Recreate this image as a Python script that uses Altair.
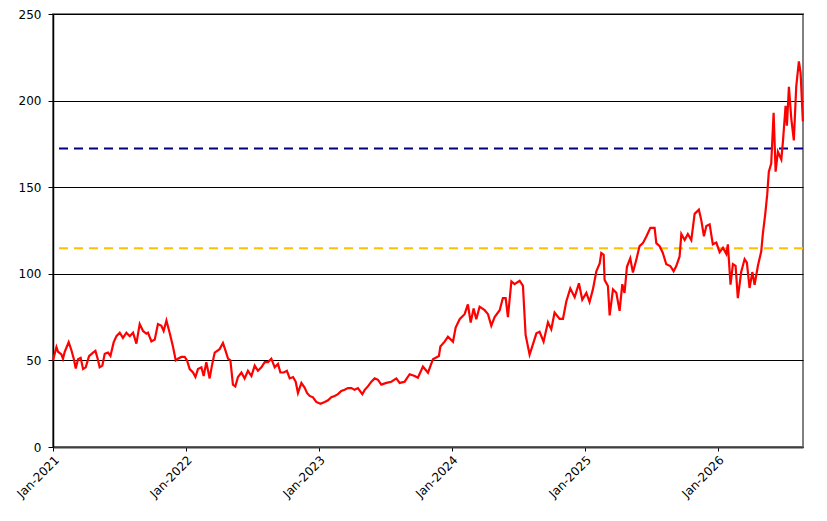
import altair as alt
import pandas as pd

# decimal-year positions and prices
t = [
    2021.000, 2021.026, 2021.038, 2021.063, 2021.075, 2021.088, 2021.118, 2021.138, 2021.156, 2021.171,
    2021.188, 2021.208, 2021.226, 2021.246, 2021.271, 2021.301, 2021.319, 2021.334, 2021.351, 2021.371,
    2021.389, 2021.414, 2021.432, 2021.456, 2021.477, 2021.502, 2021.526, 2021.552, 2021.577, 2021.602,
    2021.627, 2021.652, 2021.677, 2021.702, 2021.714, 2021.740, 2021.765, 2021.789, 2021.815, 2021.832,
    2021.853, 2021.877, 2021.902, 2021.923, 2021.940, 2021.965, 2021.990, 2022.008, 2022.028, 2022.053,
    2022.071, 2022.090, 2022.116, 2022.133, 2022.153, 2022.178, 2022.195, 2022.216, 2022.253, 2022.278,
    2022.298, 2022.316, 2022.334, 2022.353, 2022.371, 2022.391, 2022.417, 2022.441, 2022.466, 2022.492,
    2022.517, 2022.541, 2022.567, 2022.592, 2022.617, 2022.642, 2022.667, 2022.692, 2022.710, 2022.735,
    2022.759, 2022.780, 2022.805, 2022.825, 2022.842, 2022.868, 2022.893, 2022.910, 2022.930, 2022.955,
    2022.980, 2023.011, 2023.043, 2023.068, 2023.093, 2023.118, 2023.143, 2023.168, 2023.193, 2023.218,
    2023.244, 2023.268, 2023.293, 2023.326, 2023.344, 2023.368, 2023.394, 2023.419, 2023.444, 2023.469,
    2023.507, 2023.544, 2023.582, 2023.607, 2023.644, 2023.682, 2023.720, 2023.744, 2023.782, 2023.820,
    2023.857, 2023.902, 2023.913, 2023.945, 2023.970, 2024.008, 2024.028, 2024.058, 2024.095, 2024.120,
    2024.141, 2024.163, 2024.183, 2024.208, 2024.246, 2024.271, 2024.296, 2024.321, 2024.359, 2024.383,
    2024.404, 2024.421, 2024.447, 2024.471, 2024.509, 2024.534, 2024.554, 2024.584, 2024.609, 2024.635,
    2024.659, 2024.689, 2024.722, 2024.747, 2024.772, 2024.810, 2024.835, 2024.860, 2024.890, 2024.923,
    2024.955, 2024.980, 2025.011, 2025.035, 2025.060, 2025.086, 2025.111, 2025.123, 2025.141, 2025.148,
    2025.173, 2025.186, 2025.211, 2025.236, 2025.261, 2025.281, 2025.298, 2025.316, 2025.341, 2025.361,
    2025.386, 2025.411, 2025.436, 2025.462, 2025.492, 2025.524, 2025.537, 2025.562, 2025.586, 2025.612,
    2025.642, 2025.667, 2025.687, 2025.712, 2025.725, 2025.750, 2025.774, 2025.800, 2025.825, 2025.857,
    2025.875, 2025.895, 2025.913, 2025.938, 2025.962, 2025.988, 2026.013, 2026.038, 2026.063, 2026.075,
    2026.095, 2026.113, 2026.133, 2026.150, 2026.175, 2026.201, 2026.218, 2026.238, 2026.259, 2026.276,
    2026.301, 2026.326, 2026.338, 2026.356, 2026.371, 2026.383, 2026.401, 2026.419, 2026.434, 2026.451,
    2026.477, 2026.489, 2026.509, 2026.519, 2026.534, 2026.552, 2026.571, 2026.589, 2026.609, 2026.622,
    2026.639,
]
price = [
    50.0, 57.7, 55.0, 53.5, 51.0, 55.0, 60.5, 56.0, 51.0, 45.3,
    50.7, 51.5, 45.0, 46.0, 52.5, 54.5, 55.5, 51.5, 46.0, 47.0,
    53.8, 54.5, 52.6, 60.4, 64.0, 66.0, 63.0, 66.0, 64.0, 66.0,
    59.7, 71.0, 67.0, 65.4, 66.0, 61.0, 62.0, 71.0, 70.0, 67.0,
    73.0, 66.0, 58.0, 50.0, 51.0, 52.0, 52.0, 50.0, 45.0, 43.0,
    40.4, 45.0, 46.0, 41.0, 49.0, 39.6, 47.0, 54.5, 56.5, 60.0,
    55.5, 51.0, 50.0, 36.0, 35.0, 40.4, 43.0, 39.6, 44.0, 41.0,
    47.0, 44.0, 46.0, 49.0, 49.0, 51.0, 46.0, 48.0, 43.0, 43.0,
    44.0, 39.6, 40.4, 37.7, 31.2, 37.0, 34.2, 31.2, 29.5, 28.7,
    26.0, 25.0, 26.0, 27.0, 28.7, 29.5, 30.5, 32.3, 33.0, 34.0,
    34.0, 33.0, 34.0, 30.5, 33.0, 35.0, 37.7, 39.6, 38.8, 36.0,
    37.0, 37.7, 39.6, 37.0, 37.7, 42.0, 41.0, 40.0, 46.5, 42.9,
    50.7, 52.5, 58.0, 60.8, 63.7, 60.8, 69.0, 73.8, 76.7, 82.3,
    71.9, 80.0, 73.8, 81.0, 79.0, 76.7, 70.0, 75.0, 79.0, 86.0,
    86.0, 75.0, 95.6, 94.0, 96.0, 93.0, 64.7, 53.3, 59.3, 65.6,
    66.5, 60.8, 72.0, 68.0, 77.6, 74.0, 74.0, 84.0, 91.5, 86.5,
    94.5, 85.0, 89.0, 83.7, 91.0, 101.5, 106.0, 112.0, 111.0, 96.5,
    92.9, 76.0, 91.0, 89.0, 78.6, 94.0, 89.0, 104.0, 109.0, 100.7,
    108.0, 116.0, 117.7, 121.5, 126.5, 126.5, 117.7, 116.0, 112.0, 105.5,
    104.5, 101.5, 104.5, 110.0, 123.0, 119.5, 123.0, 119.5, 134.6, 137.0,
    131.0, 121.7, 127.6, 128.5, 117.0, 118.0, 112.5, 115.0, 111.5, 117.0,
    93.7, 105.6, 104.6, 86.0, 101.0, 108.5, 106.5, 91.8, 101.0, 93.7,
    104.6, 113.0, 123.0, 134.5, 146.0, 159.0, 163.7, 193.0, 159.0, 170.5,
    166.0, 176.3, 197.0, 185.5, 208.0, 189.5, 177.0, 208.0, 222.6, 216.0,
    188.0,
]
ref_levels = [172.4, 114.7]
ref_colors = ["#000080", "#FFC000"]
y_ticks = [0, 50, 100, 150, 200, 250]
x_tick_years = [2021, 2022, 2023, 2024, 2025, 2026]

base_day = pd.Timestamp("2021-01-01")
dates = [base_day + pd.to_timedelta((v - 2021.0) * 365.25, unit="D") for v in t]
df = pd.DataFrame({"date": dates, "price": price})

x_scale = alt.Scale(domain=[alt.DateTime(year=2021, month=1, date=1),
                            alt.DateTime(year=2026, month=8, date=23)])
y_scale = alt.Scale(domain=[0, 250], nice=False)

x_axis = alt.Axis(
    values=[alt.DateTime(year=y, month=1, date=1) for y in x_tick_years],
    labelExpr="timeFormat(datum.value, '%b-%Y')",
    labelAngle=-45, labelAlign="right", labelBaseline="top",
    grid=False, domainColor="#404040", domainWidth=2,
    tickColor="#000000", tickSize=4, labelPadding=3, title=None,
)
y_axis = alt.Axis(
    values=y_ticks, grid=True, gridColor="#000000", gridWidth=1,
    domainColor="#000000", domainWidth=1.5, tickColor="#000000", tickSize=5,
    labelPadding=7, title=None,
)

line = alt.Chart(df).mark_line(color="#FF0000", strokeWidth=2.2).encode(
    x=alt.X("date:T", scale=x_scale, axis=x_axis),
    y=alt.Y("price:Q", scale=y_scale, axis=y_axis),
)

refs_df = pd.DataFrame({"level": ref_levels, "color": ref_colors})
refs = alt.Chart(refs_df).mark_rule(strokeWidth=2, strokeDash=[9, 6]).encode(
    y=alt.Y("level:Q", scale=y_scale),
    color=alt.Color("color:N", scale=None),
)

chart = alt.layer(refs, line).properties(
    width=750, height=433,
    autosize=alt.AutoSizeParams(type="none"),
    padding={"left": 45, "top": 6, "right": 16, "bottom": 60},
).configure_view(
    stroke="#808080", strokeWidth=2
).configure_axis(
    labelFont="DejaVu Sans", labelFontSize=12, labelColor="#000000"
)

chart.save("out.html", embed_options={"renderer": "svg", "actions": False})
